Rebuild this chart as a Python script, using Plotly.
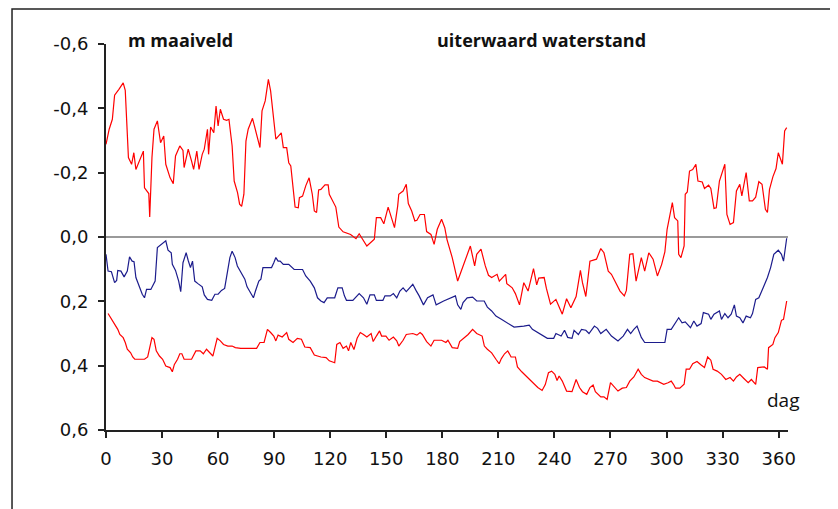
import plotly.graph_objects as go

# uiterwaard waterstand (upper red series)
days_top = [0, 1.7, 3.4, 4.6, 6.9, 9.2, 10.3, 10.9, 12, 13.7, 14.9, 16, 18.3, 20, 20.6, 22.9, 23.4, 24.6, 25.7, 27.5,
            29.2, 30.9, 32, 34.3, 36, 37.2, 39.5, 41.2, 41.8, 44, 45.8, 46.9, 48.6, 49.8, 51.5, 52.6, 54.3, 54.9, 56, 57.7,
            58.9, 60, 61.2, 62.9, 64.6, 65.8, 67.5, 68.6, 70.4, 71.5, 72.6, 73.8, 74.9, 76.1, 78.4, 80.6, 82.4, 83.5, 85.2, 86.9,
            88.1, 90.9, 92.6, 93.8, 94.9, 96.7, 97.8, 98.9, 101.2, 102.9, 103.5, 105.2, 106.9, 108.7, 110.4, 111.5, 112.7, 113.8, 115, 117.2,
            118.9, 119.5, 123, 124.6, 126.9, 130.9, 133.8, 135.5, 139.6, 143.6, 144.7, 147, 148.7, 151, 153.3, 154.4, 156.1, 156.7, 159, 160.7,
            161.8, 163.6, 165.3, 166.4, 168.1, 170.4, 171.6, 173.9, 175.6, 177.3, 179.6, 181.3, 182.5, 185.3, 188.2, 191, 193.3, 195, 197.3, 198.4,
            200.7, 203, 204.7, 206.4, 209.3, 210.5, 213.9, 214.5, 217.4, 219.1, 221.3, 223.6, 225.9, 228.8, 230.5, 231.6, 234.5, 235.7, 237.9, 240.8,
            244.2, 246.5, 248.8, 251.6, 253.9, 255, 256.8, 259, 262.5, 264.8, 266.5, 268.8, 270.5, 272.8, 275.1, 277.4, 278.5, 280.3, 282, 283.7,
            285.4, 286.5, 288.3, 290.5, 292.8, 295.1, 297.4, 299.1, 300.3, 301.4, 303.1, 304.3, 306, 306.5, 307.7, 309.4, 310, 311.1, 312.3, 314,
            315.7, 316.8, 319.1, 320.3, 322.5, 323.7, 325.4, 326.6, 328.3, 331.2, 332.3, 334, 335.8, 337.4, 339.2, 340.3, 342.6, 344.3, 346, 347.7,
            349.4, 351.1, 352.9, 354, 355.1, 356.9, 358.6, 359.8, 362, 363.2, 364.3]
vals_top = [-0.288, -0.335, -0.366, -0.441, -0.459, -0.479, -0.456, -0.361, -0.247, -0.226, -0.262, -0.210, -0.241, -0.267, -0.153, -0.135, -0.062, -0.247, -0.335, -0.361,
            -0.293, -0.314, -0.226, -0.184, -0.166, -0.252, -0.283, -0.269, -0.216, -0.273, -0.236, -0.210, -0.267, -0.210, -0.257, -0.273, -0.335, -0.257, -0.342, -0.324,
            -0.407, -0.345, -0.397, -0.366, -0.363, -0.366, -0.283, -0.174, -0.138, -0.102, -0.095, -0.133, -0.298, -0.335, -0.369, -0.319, -0.278, -0.392, -0.423, -0.490,
            -0.454, -0.304, -0.314, -0.324, -0.278, -0.278, -0.231, -0.221, -0.093, -0.091, -0.122, -0.127, -0.159, -0.184, -0.133, -0.081, -0.076, -0.146, -0.148, -0.162,
            -0.162, -0.133, -0.093, -0.031, -0.016, -0.008, 0.005, -0.010, 0.028, 0.007, -0.060, -0.060, -0.041, -0.093, -0.050, -0.029, -0.096, -0.133, -0.143, -0.164,
            -0.104, -0.081, -0.050, -0.052, -0.070, -0.070, -0.017, -0.008, 0.023, -0.024, -0.055, -0.029, 0.008, 0.064, 0.137, 0.090, 0.054, 0.028, 0.090, 0.054,
            0.038, 0.090, 0.119, 0.126, 0.116, 0.137, 0.116, 0.145, 0.158, 0.176, 0.211, 0.142, 0.168, 0.098, 0.149, 0.128, 0.126, 0.160, 0.209, 0.194,
            0.240, 0.192, 0.220, 0.185, 0.104, 0.142, 0.185, 0.075, 0.069, 0.036, 0.049, 0.106, 0.116, 0.142, 0.168, 0.183, 0.166, 0.054, 0.052, 0.137,
            0.095, 0.064, 0.106, 0.049, 0.069, 0.121, 0.085, 0.046, -0.024, -0.060, -0.107, -0.060, -0.050, 0.054, 0.064, 0.028, -0.133, -0.140, -0.205, -0.210,
            -0.226, -0.174, -0.171, -0.151, -0.161, -0.151, -0.089, -0.091, -0.174, -0.226, -0.070, -0.039, -0.045, -0.143, -0.164, -0.128, -0.200, -0.112, -0.112, -0.124,
            -0.172, -0.164, -0.086, -0.076, -0.148, -0.187, -0.213, -0.262, -0.226, -0.330, -0.340]

# middle (blue) series
days_mid = [0, 1.1, 2.9, 4.6, 5.7, 6.3, 8, 9.7, 11.4, 12.6, 14, 15, 16, 17.7, 19.4, 20.6, 21.7, 24, 26.3, 27.5,
            29.7, 32, 33.2, 34.9, 35.5, 37.2, 38.9, 40, 41.2, 42.9, 44, 45.2, 46.3, 47.5, 49.2, 51.5, 52.6, 54.3, 56.6, 58.3,
            60, 61.8, 63.5, 65.2, 66.3, 67.5, 69.1, 70.3, 72.6, 74.3, 75.5, 77.2, 78.9, 80, 81.8, 82.9, 84, 85.2, 88.6, 89.8,
            90.9, 92.1, 93.2, 94.9, 97.8, 100.7, 105.2, 106.9, 109.3, 111.5, 113.2, 115, 116.7, 118.4, 122.4, 124.1, 126.4, 127.6, 128.7, 132.1,
            135.5, 137.8, 139.6, 141.3, 143.6, 144.7, 148.2, 149.3, 152.1, 153.8, 155.6, 157.3, 159, 160.7, 162.4, 164.2, 165.9, 167.6, 169.9, 172.1,
            175, 176.7, 180.7, 183, 187, 188.2, 189.9, 191.1, 193.3, 196.2, 198.4, 202.4, 204.1, 206.4, 208.7, 211.6, 215, 218.4, 223.6, 226.5,
            228.2, 231, 233.9, 236.2, 239.6, 240.8, 243.6, 245.4, 247.1, 249.4, 250.5, 252.8, 254.5, 256.8, 258.5, 261.4, 263.1, 264.8, 267.7, 270.5,
            274, 276.8, 279.1, 280.8, 282.5, 284.2, 286.5, 288.3, 299.1, 300.3, 302.5, 304.3, 306.5, 308.3, 310, 312.8, 314.6, 316.3, 318.5, 319.7,
            322.5, 323.7, 325.4, 328.3, 329.4, 331.2, 332.9, 334.6, 336.3, 337.4, 339.2, 340.9, 342.6, 344.9, 346, 347.7, 349.4, 351.7, 354, 355.7,
            357.4, 359.8, 361.5, 362.6, 364.3]
vals_mid = [0.054, 0.106, 0.108, 0.142, 0.135, 0.104, 0.106, 0.124, 0.106, 0.062, 0.075, 0.077, 0.126, 0.152, 0.178, 0.189, 0.163, 0.163, 0.137, 0.033,
            0.023, 0.012, 0.041, 0.049, 0.085, 0.104, 0.137, 0.170, 0.080, 0.049, 0.073, 0.095, 0.075, 0.137, 0.145, 0.155, 0.180, 0.194, 0.197, 0.178,
            0.178, 0.166, 0.160, 0.095, 0.064, 0.044, 0.064, 0.090, 0.114, 0.131, 0.155, 0.173, 0.189, 0.168, 0.137, 0.131, 0.095, 0.095, 0.095, 0.080,
            0.064, 0.075, 0.075, 0.085, 0.085, 0.101, 0.101, 0.121, 0.137, 0.158, 0.189, 0.199, 0.204, 0.189, 0.189, 0.158, 0.158, 0.183, 0.197, 0.197,
            0.176, 0.189, 0.209, 0.180, 0.180, 0.197, 0.197, 0.183, 0.183, 0.176, 0.189, 0.168, 0.158, 0.170, 0.160, 0.147, 0.166, 0.183, 0.211, 0.189,
            0.180, 0.211, 0.199, 0.194, 0.183, 0.211, 0.225, 0.204, 0.189, 0.187, 0.199, 0.199, 0.218, 0.230, 0.246, 0.256, 0.269, 0.280, 0.277, 0.274,
            0.287, 0.297, 0.308, 0.315, 0.315, 0.300, 0.308, 0.290, 0.312, 0.315, 0.290, 0.303, 0.287, 0.290, 0.300, 0.277, 0.284, 0.300, 0.287, 0.308,
            0.323, 0.308, 0.287, 0.300, 0.287, 0.277, 0.312, 0.328, 0.328, 0.287, 0.287, 0.272, 0.251, 0.267, 0.264, 0.282, 0.261, 0.277, 0.269, 0.235,
            0.240, 0.256, 0.240, 0.230, 0.256, 0.238, 0.251, 0.240, 0.211, 0.246, 0.251, 0.267, 0.246, 0.251, 0.238, 0.194, 0.189, 0.158, 0.126, 0.095,
            0.054, 0.041, 0.054, 0.075, 0.004]

# lower red series
days_low = [1.1, 2.9, 4.6, 6.3, 7.4, 9.2, 10.3, 11.4, 13.2, 14.3, 15.4, 20.6, 22.3, 23.4, 24.6, 25.7, 26.9, 28.6, 30.3, 32,
            34.3, 35.5, 36.6, 38.3, 39.5, 40.6, 41.8, 45.8, 46.9, 48.1, 50.4, 52.1, 53.8, 55.5, 57.2, 58.3, 59.5, 61.2, 62.9, 65.2,
            67.5, 69.2, 72.1, 80.6, 82.4, 84.6, 86.4, 88.1, 89.8, 90.9, 92.1, 94.3, 96.7, 97.8, 100.1, 102.4, 104.6, 106.4, 109.3, 111.5,
            115, 117.8, 119.5, 122.4, 123.5, 125.2, 126.9, 128.7, 129.8, 131, 132.7, 134.4, 136.1, 137.8, 139.6, 141.9, 143, 144.7, 146.4, 147.5,
            149.8, 151.5, 153.8, 155.6, 156.7, 159, 160.7, 164.2, 166.4, 168.1, 169.3, 171.6, 173.9, 175.6, 179.6, 181.9, 183, 185.3, 188.2, 189.3,
            191.6, 193.8, 196.2, 198.4, 201.3, 202.5, 204.1, 206.4, 208.7, 210.4, 211.6, 213.3, 215, 216.8, 219.1, 220.2, 222.5, 224.8, 227.1, 228.8,
            231.1, 233.4, 235.1, 236.8, 238.5, 240.2, 241.4, 242.5, 244.2, 246.5, 249.4, 251.6, 253.4, 255, 257.3, 259, 260.7, 261.9, 263.6, 264.8,
            266.5, 268.2, 270, 272.3, 274, 276.3, 278.5, 280.3, 282.5, 284.8, 286.5, 288.3, 290.5, 292.8, 295.1, 296.8, 298.5, 300.8, 302.5, 303.7,
            304.8, 307.1, 309.4, 310.5, 312.3, 314, 316.3, 318.5, 320.3, 322, 323.7, 324.9, 327.1, 329.4, 331.7, 334, 335.8, 337.4, 339.2, 341.4,
            343.7, 345.4, 347.7, 348.8, 352.3, 354, 354.6, 356.9, 358, 359.8, 361.5, 362.6, 363.8, 364.3]
vals_low = [0.238, 0.256, 0.272, 0.287, 0.303, 0.313, 0.328, 0.349, 0.360, 0.373, 0.380, 0.380, 0.373, 0.344, 0.313, 0.318, 0.354, 0.370, 0.380, 0.401,
            0.406, 0.419, 0.396, 0.380, 0.363, 0.363, 0.380, 0.380, 0.365, 0.354, 0.354, 0.363, 0.349, 0.360, 0.370, 0.344, 0.315, 0.323, 0.334, 0.339,
            0.339, 0.344, 0.346, 0.346, 0.328, 0.328, 0.287, 0.297, 0.308, 0.323, 0.305, 0.311, 0.297, 0.318, 0.328, 0.315, 0.318, 0.342, 0.344, 0.367,
            0.373, 0.375, 0.385, 0.391, 0.334, 0.328, 0.346, 0.339, 0.354, 0.328, 0.350, 0.315, 0.297, 0.303, 0.311, 0.300, 0.325, 0.308, 0.292, 0.308,
            0.308, 0.321, 0.311, 0.323, 0.339, 0.321, 0.303, 0.300, 0.305, 0.297, 0.303, 0.325, 0.339, 0.321, 0.321, 0.328, 0.321, 0.344, 0.346, 0.325,
            0.313, 0.303, 0.287, 0.300, 0.308, 0.339, 0.349, 0.360, 0.380, 0.394, 0.378, 0.363, 0.354, 0.373, 0.373, 0.404, 0.419, 0.432, 0.448, 0.456,
            0.468, 0.477, 0.459, 0.422, 0.417, 0.427, 0.446, 0.432, 0.448, 0.479, 0.481, 0.443, 0.468, 0.481, 0.489, 0.468, 0.460, 0.481, 0.489, 0.497,
            0.497, 0.505, 0.453, 0.468, 0.479, 0.470, 0.468, 0.448, 0.435, 0.411, 0.427, 0.437, 0.443, 0.448, 0.448, 0.453, 0.458, 0.453, 0.448, 0.458,
            0.470, 0.470, 0.458, 0.411, 0.411, 0.394, 0.387, 0.398, 0.406, 0.373, 0.383, 0.411, 0.417, 0.427, 0.443, 0.437, 0.448, 0.435, 0.427, 0.440,
            0.453, 0.443, 0.458, 0.406, 0.404, 0.411, 0.344, 0.334, 0.313, 0.297, 0.259, 0.256, 0.220, 0.199]

x_ticks = [0, 30, 60, 90, 120, 150, 180, 210, 240, 270, 300, 330, 360]
y_ticks = [-0.6, -0.4, -0.2, 0.0, 0.2, 0.4, 0.6]
y_tick_labels = ["-0,6", "-0,4", "-0,2", "0,0", "0,2", "0,4", "0,6"]

RED = "#ff0000"
BLUE = "#1c1c8c"
FONT = "DejaVu Sans"

fig = go.Figure()
fig.add_trace(go.Scatter(x=days_top, y=vals_top, mode="lines", line=dict(color=RED, width=1.2),
                         name="uiterwaard waterstand"))
fig.add_trace(go.Scatter(x=days_mid, y=vals_mid, mode="lines", line=dict(color=BLUE, width=1.2), name="midden"))
fig.add_trace(go.Scatter(x=days_low, y=vals_low, mode="lines", line=dict(color=RED, width=1.2), name="onder"))

fig.update_layout(
    width=838, height=509,
    margin=dict(l=98, r=58, t=36, b=87),
    paper_bgcolor="white", plot_bgcolor="white",
    showlegend=False,
    font=dict(family=FONT, size=18, color="#111111"),
    xaxis=dict(range=[0, 365], tickvals=x_ticks, showgrid=False, zeroline=False,
               showline=True, linecolor="#222222", linewidth=2,
               ticks="outside", ticklen=6, tickwidth=1.5, tickcolor="#222222",
               ticklabelstandoff=5,
               tickfont=dict(family=FONT, size=18, color="#111111")),
    yaxis=dict(range=[0.6, -0.6], tickvals=y_ticks, ticktext=y_tick_labels, showgrid=False,
               zeroline=True, zerolinecolor="#9a9a9a", zerolinewidth=2,
               showline=True, linecolor="#222222", linewidth=2,
               ticks="outside", ticklen=6, tickwidth=1.5, tickcolor="#222222",
               ticklabelstandoff=6,
               tickfont=dict(family=FONT, size=18, color="#111111")),
    annotations=[
        dict(text="<b>m maaiveld</b>", xref="paper", yref="paper", x=0.029, y=1.01,
             xanchor="left", yanchor="middle", showarrow=False,
             font=dict(family="Open Sans", size=18, color="#111111")),
        dict(text="<b>uiterwaard waterstand</b>", xref="paper", yref="paper", x=0.482, y=1.01,
             xanchor="left", yanchor="middle", showarrow=False,
             font=dict(family="Open Sans", size=18, color="#111111")),
        dict(text="dag", xref="paper", yref="paper", x=0.993, y=0.078,
             xanchor="center", yanchor="middle", showarrow=False,
             font=dict(family="Open Sans", size=19, color="#111111")),
    ],
    shapes=[
        dict(type="rect", xref="paper", yref="paper", x0=-0.1378, y0=-0.4, x1=1.3, y1=1.0907,
             line=dict(color="#222222", width=1.5), fillcolor="rgba(0,0,0,0)", layer="below"),
    ],
)

fig.write_html("out.html")
